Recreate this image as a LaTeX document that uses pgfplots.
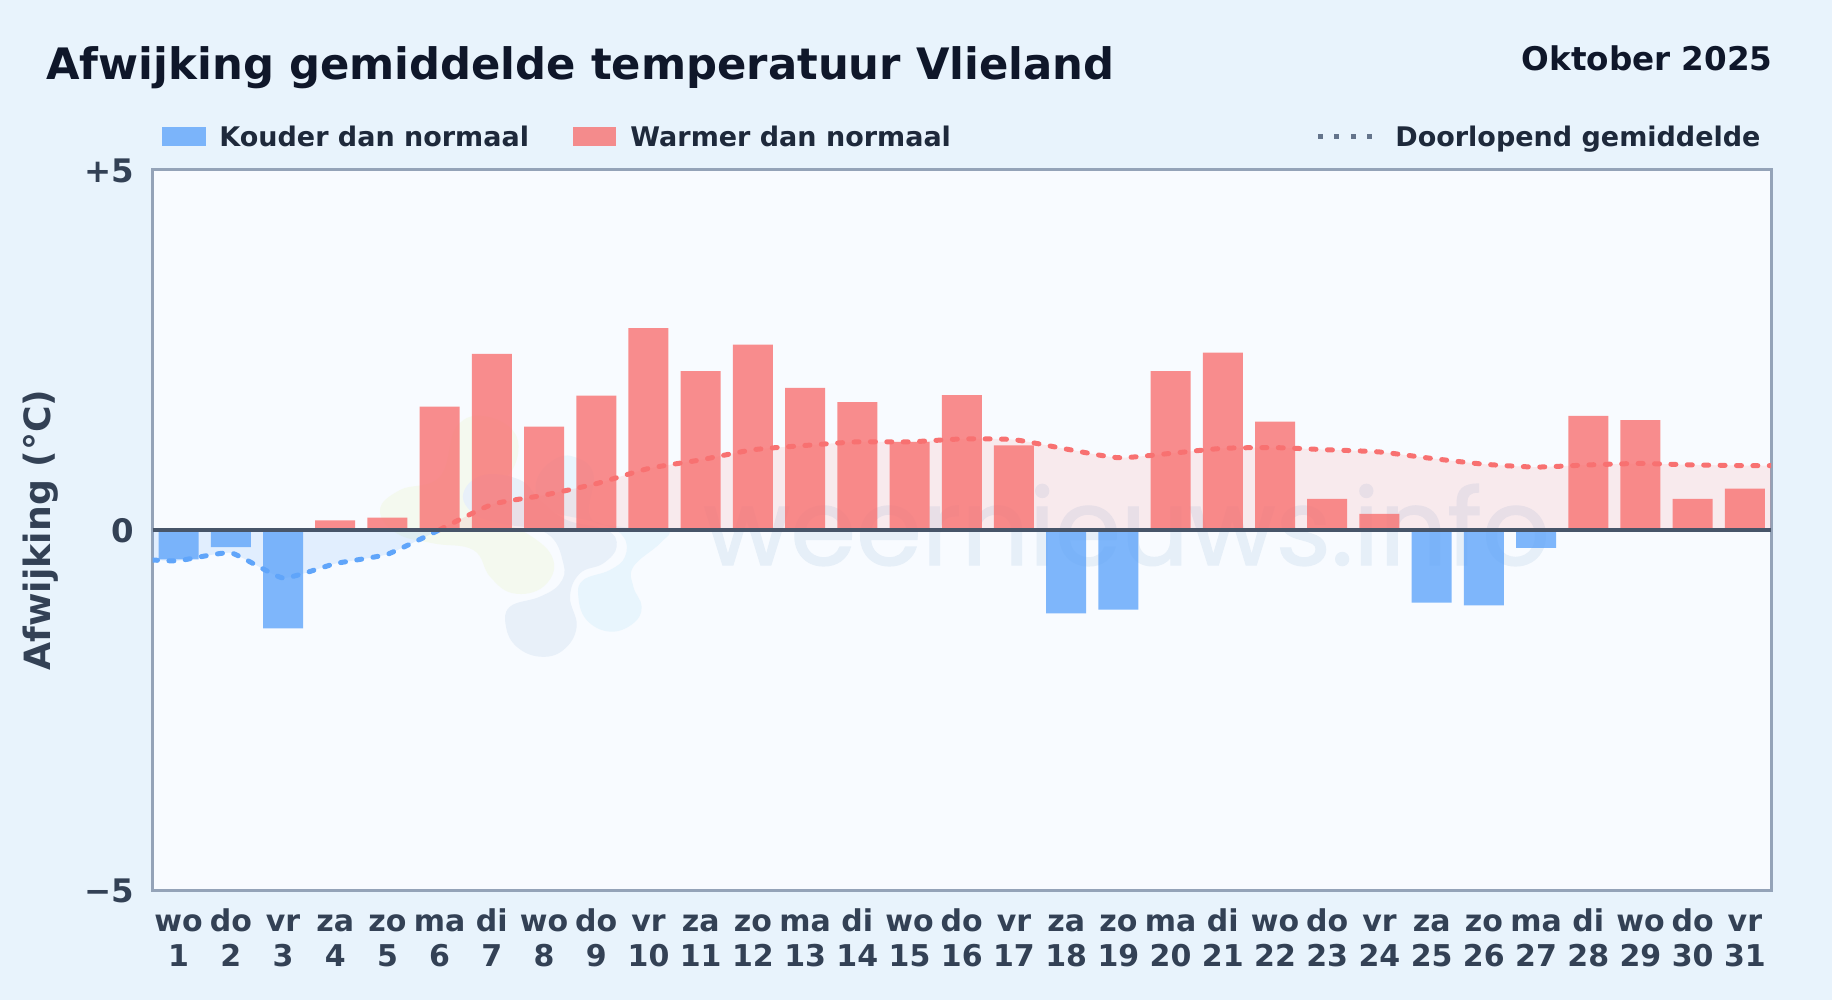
\documentclass[border=0pt]{standalone}
\usepackage{fontspec}
\usepackage{pgfplots}
\pgfplotsset{compat=1.18}
\setmainfont{DejaVu Sans}
\newfontfamily\wmfont[FakeBold=1.2]{Poppins}

\definecolor{pagebg}{HTML}{E8F3FC}
\definecolor{plotbg}{HTML}{F8FBFF}
\definecolor{frame}{HTML}{94A3B8}
\definecolor{zeroline}{HTML}{475569}
\definecolor{warm}{HTML}{F87171}
\definecolor{cold}{HTML}{60A5FA}
\definecolor{titlecol}{HTML}{0F172A}
\definecolor{legendcol}{HTML}{1E293B}
\definecolor{tickcol}{HTML}{334155}
\definecolor{dotcol}{HTML}{64748B}
\definecolor{wmcol}{HTML}{E6EFF8}
\definecolor{blobyellow}{HTML}{F4F9EF}
\definecolor{blobslate}{HTML}{E8F0F9}
\definecolor{blobblue}{HTML}{E8F5FD}

% tick label: weekday over day number, same top for every label
\newcommand{\tl}[2]{\rule{0pt}{12pt}#1\\#2}

\begin{document}
\begin{tikzpicture}
    % page and plot area, in reference pixels
    \begin{scope}[x=0.5pt, y=-0.5pt]
        \useasboundingbox (0,0) rectangle (1832,1000);
        \fill[pagebg] (0,0) rectangle (1832,1000);
        \fill[plotbg] (152.5,169.5) rectangle (1771,890);

        \node[anchor=base west, inner sep=0, text=titlecol, font=\fontsize{21.66}{24}\selectfont\bfseries] at (46,79.5) {Afwijking gemiddelde temperatuur Vlieland};
        \node[anchor=base east, inner sep=0, text=titlecol, font=\fontsize{16.3}{18}\selectfont\bfseries] at (1773,70.5) {Oktober 2025};

        % legend row
        \fill[cold, fill opacity=0.8] (162,127) rectangle (206,146);
        \node[anchor=base west, inner sep=0, text=legendcol, font=\fontsize{13.5}{15}\selectfont\bfseries] at (219,146.5) {Kouder dan normaal};
        \fill[warm, fill opacity=0.8] (573,127) rectangle (616,146);
        \node[anchor=base west, inner sep=0, text=legendcol, font=\fontsize{13.5}{15}\selectfont\bfseries] at (630,146.5) {Warmer dan normaal};
        \draw[dotcol, line width=2.3pt, dash pattern=on 2.5pt off 5.7pt] (1318,136.7) -- (1372,136.7);
        \node[anchor=base west, inner sep=0, text=legendcol, font=\fontsize{13.5}{15}\selectfont\bfseries] at (1395,146.5) {Doorlopend gemiddelde};

        \node[rotate=90, anchor=base, inner sep=0, text=tickcol, font=\fontsize{18.1}{20}\selectfont\bfseries] at (50,530) {Afwijking (°C)};

        % watermark
        \node[anchor=base west, inner sep=0, text=wmcol, font=\fontsize{53}{58}\selectfont\wmfont] at (703,565) {weernieuws.info};
    \end{scope}
    % watermark logo, coordinates as seen in a 3x crop
    \begin{scope}[shift={(170pt,-200pt)}, x=0.16667pt, y=-0.16667pt]
        \fill[blobyellow] plot[smooth cycle, tension=0.7] coordinates {(120,330) (180,270) (300,230) (350,80) (440,50) (530,110) (510,220) (420,250) (400,330) (560,400) (640,480) (610,560) (520,580) (450,530) (400,450) (280,430) (170,400)};
        \fill[blobblue] plot[smooth cycle, tension=0.7] coordinates {(590,240) (640,180) (700,170) (760,220) (750,350) (840,380) (980,390) (960,430) (880,500) (880,560) (905,620) (880,670) (810,695) (740,660) (715,590) (730,540) (810,510) (855,470) (850,410) (780,370) (650,340) (600,310)};
        \fill[blobslate] plot[smooth cycle, tension=0.7] coordinates {(370,280) (430,225) (540,240) (600,300) (680,360) (800,390) (830,440) (790,490) (720,520) (690,590) (710,680) (670,750) (600,770) (530,740) (498,680) (510,620) (600,590) (660,550) (670,490) (620,400) (480,370) (400,340)};
    \end{scope}

    \begin{axis}[
            at={(76.25pt,-445pt)},
            anchor=south west,
            scale only axis,
            width=809.25pt,
            height=360.25pt,
            xmin=0.5, xmax=31.5,
            ymin=-5, ymax=5,
            axis line style={frame, line width=1.5pt},
            major tick length=0pt,
            xtick={1,2,...,31},
            xticklabels={{\tl{wo}{1}},{\tl{do}{2}},{\tl{vr}{3}},{\tl{za}{4}},{\tl{zo}{5}},{\tl{ma}{6}},{\tl{di}{7}},{\tl{wo}{8}},{\tl{do}{9}},{\tl{vr}{10}},{\tl{za}{11}},{\tl{zo}{12}},{\tl{ma}{13}},{\tl{di}{14}},{\tl{wo}{15}},{\tl{do}{16}},{\tl{vr}{17}},{\tl{za}{18}},{\tl{zo}{19}},{\tl{ma}{20}},{\tl{di}{21}},{\tl{wo}{22}},{\tl{do}{23}},{\tl{vr}{24}},{\tl{za}{25}},{\tl{zo}{26}},{\tl{ma}{27}},{\tl{di}{28}},{\tl{wo}{29}},{\tl{do}{30}},{\tl{vr}{31}}},
            xticklabel style={align=center, text=tickcol, font=\fontsize{15}{17.5}\selectfont\bfseries, inner sep=0pt, yshift=-8.3pt},
            ytick={-5,0,5},
            yticklabels={−5,0,+5},
            yticklabel style={text=tickcol, font=\fontsize{16.2}{18}\selectfont\bfseries, inner sep=0pt, xshift=-9pt, yshift=-0.5pt},
        ]
        % area under the running mean
        \addplot[draw=none, fill=cold, fill opacity=0.15, smooth, tension=0.25]
        coordinates {(0.5,-0.42) (1,-0.43) (2,-0.32) (3,-0.67) (4,-0.47) (5,-0.34) (6,0)} \closedcycle;
        \addplot[draw=none, fill=warm, fill opacity=0.12, smooth, tension=0.35]
        coordinates {(6,0) (7,0.35) (8,0.48) (9,0.64) (10,0.85) (11,0.97) (12,1.11) (13,1.17) (14,1.22) (15,1.22) (16,1.26) (17,1.25) (18,1.12) (19,1.00) (20,1.06) (21,1.13) (22,1.14) (23,1.11) (24,1.08) (25,0.99) (26,0.91) (27,0.87) (28,0.90) (29,0.92) (30,0.90) (31,0.89) (31.5,0.89)} \closedcycle;

        % daily bars
        \addplot[ybar, bar width=20pt, bar shift=0pt, draw=none, fill=cold, fill opacity=0.8]
        coordinates {(1,-0.41) (2,-0.24) (3,-1.37) (18,-1.16) (19,-1.11) (25,-1.01) (26,-1.05) (27,-0.25)};
        \addplot[ybar, bar width=20pt, bar shift=0pt, draw=none, fill=warm, fill opacity=0.8]
        coordinates {(4,0.13) (5,0.17) (6,1.71) (7,2.44) (8,1.43) (9,1.86) (10,2.80) (11,2.20) (12,2.57) (13,1.97) (14,1.77) (15,1.22) (16,1.87) (17,1.17) (20,2.20) (21,2.46) (22,1.50) (23,0.43) (24,0.22) (28,1.58) (29,1.52) (30,0.43) (31,0.57)};

        % running mean
        \addplot[cold, line width=2.5pt, line cap=round, dash pattern=on 2.5pt off 5.7pt, smooth, tension=0.25]
        coordinates {(0.5,-0.42) (1,-0.43) (2,-0.32) (3,-0.67) (4,-0.47) (5,-0.34) (6,0)};
        \addplot[warm, line width=2.5pt, line cap=round, dash pattern=on 2.5pt off 5.7pt, smooth, tension=0.35]
        coordinates {(6,0) (7,0.35) (8,0.48) (9,0.64) (10,0.85) (11,0.97) (12,1.11) (13,1.17) (14,1.22) (15,1.22) (16,1.26) (17,1.25) (18,1.12) (19,1.00) (20,1.06) (21,1.13) (22,1.14) (23,1.11) (24,1.08) (25,0.99) (26,0.91) (27,0.87) (28,0.90) (29,0.92) (30,0.90) (31,0.89) (31.5,0.89)};

        % zero line
        \addplot[zeroline, line width=2.1pt] coordinates {(0.5,0) (31.5,0)};
    \end{axis}
\end{tikzpicture}
\end{document}
